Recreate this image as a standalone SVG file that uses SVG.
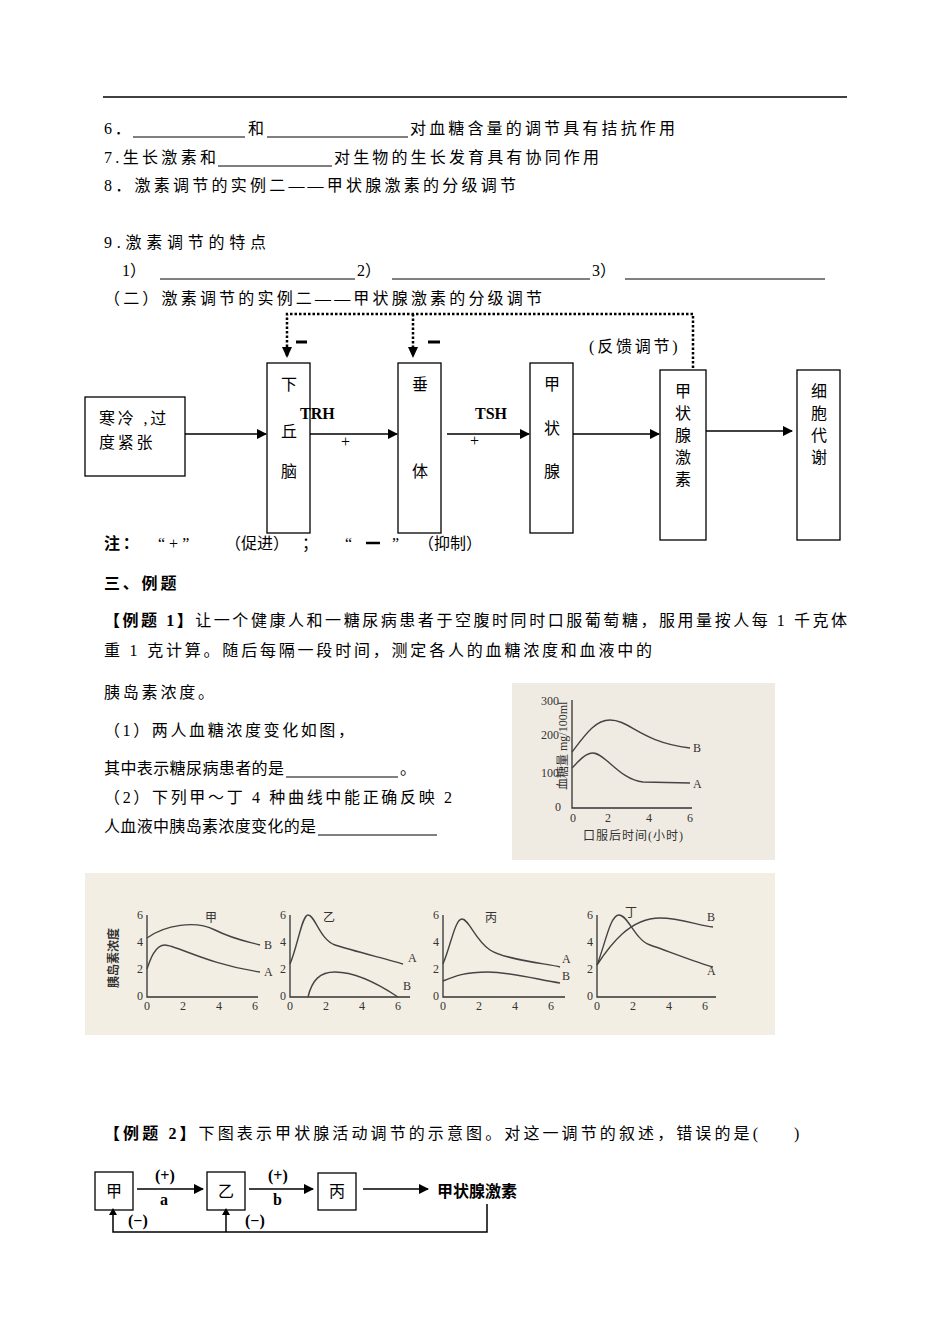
<svg xmlns="http://www.w3.org/2000/svg" width="950" height="1342" viewBox="0 0 950 1342">
<defs>
<style>
text{font-family:"Liberation Serif","Noto Sans CJK SC",serif;font-size:16px;fill:#000}
.t{letter-spacing:2.8px}
.b{font-weight:bold}
.box{fill:#fff;stroke:#000;stroke-width:1.3}
.ln{stroke:#000;stroke-width:1.5;fill:none}
.u{stroke:#000;stroke-width:1}
.dot{stroke:#000;stroke-width:2.5;stroke-dasharray:2.5 2;fill:none}
.cv{stroke:#444;stroke-width:1.4;fill:none}
.ax{stroke:#333;stroke-width:1.3;fill:none}
.g{font-size:12px;fill:#333}
</style>
<marker id="ar" viewBox="0 0 10 10" refX="9" refY="5" markerWidth="7" markerHeight="7" orient="auto"><path d="M0,0L10,5L0,10z" fill="#000"/></marker>
</defs>
<line x1="103" y1="97" x2="847" y2="97" stroke="#000" stroke-width="1.5"/>
<text class="t" x="104" y="134">6．</text><line class="u" x1="133" y1="137" x2="245" y2="137"/><text x="248" y="134">和</text><line class="u" x1="267" y1="137" x2="408" y2="137"/><text x="410" y="134" textLength="265" lengthAdjust="spacing">对血糖含量的调节具有拮抗作用</text>
<text x="104" y="163" textLength="112" lengthAdjust="spacing">7.生长激素和</text><line class="u" x1="218" y1="166" x2="332" y2="166"/><text x="334" y="163" textLength="265" lengthAdjust="spacing">对生物的生长发育具有协同作用</text>
<text x="104" y="191" textLength="412" lengthAdjust="spacing">8．激素调节的实例二——甲状腺激素的分级调节</text>
<text x="104" y="248" textLength="162" lengthAdjust="spacing">9.激素调节的特点</text>
<text x="122" y="276">1）</text><line class="u" x1="160" y1="279" x2="355" y2="279"/><text x="357" y="276">2）</text><line class="u" x1="392" y1="279" x2="590" y2="279"/><text x="592" y="276">3）</text><line class="u" x1="625" y1="279" x2="825" y2="279"/>
<text x="104" y="304" textLength="438" lengthAdjust="spacing">（二）激素调节的实例二——甲状腺激素的分级调节</text>

<g id="n1"><rect class="box" x="85" y="397" width="100" height="79"/><text class="t" x="99" y="424">寒冷 ,过</text><text class="t" x="99" y="448">度紧张</text></g>
<g id="n2"><rect class="box" x="267" y="363" width="43" height="170"/><text x="281" y="390">下</text><text x="281" y="437">丘</text><text x="281" y="477">脑</text></g>
<g id="n3"><rect class="box" x="398" y="363" width="43" height="170"/><text x="412" y="390">垂</text><text x="412" y="477">体</text></g>
<g id="n4"><rect class="box" x="530" y="363" width="43" height="170"/><text x="544" y="390">甲</text><text x="544" y="434">状</text><text x="544" y="477">腺</text></g>
<g id="n5"><rect class="box" x="660" y="370" width="46" height="170"/><text x="675" y="397">甲</text><text x="675" y="419">状</text><text x="675" y="441">腺</text><text x="675" y="463">激</text><text x="675" y="485">素</text></g>
<g id="n6"><rect class="box" x="797" y="370" width="43" height="170"/><text x="811" y="397">细</text><text x="811" y="419">胞</text><text x="811" y="441">代</text><text x="811" y="463">谢</text></g>
<g id="connectors">
<path class="dot" d="M287,356V314H693V370"/>
<path class="dot" d="M413,314V352"/>
<path d="M282,347L292,347L287,358z"/><path d="M408,347L418,347L413,358z"/>
<line x1="296" y1="342" x2="307" y2="342" stroke="#000" stroke-width="3"/>
<line x1="428" y1="342" x2="440" y2="342" stroke="#000" stroke-width="3"/>
<line class="ln" x1="185" y1="434" x2="266" y2="434" marker-end="url(#ar)"/>
<line class="ln" x1="310" y1="434" x2="397" y2="434" marker-end="url(#ar)"/>
<line class="ln" x1="447" y1="434" x2="529" y2="434" marker-end="url(#ar)"/>
<line class="ln" x1="573" y1="434" x2="659" y2="434" marker-end="url(#ar)"/>
<line class="ln" x1="706" y1="431" x2="792" y2="431" marker-end="url(#ar)"/>
<text x="300" y="419" class="b" font-size="14">TRH</text>
<text x="475" y="419" class="b" font-size="14">TSH</text>
<text x="341" y="447" font-size="15">+</text>
<text x="470" y="446" font-size="15">+</text>
<text class="t" x="589" y="352">(反馈调节)</text>
</g>
<text x="104" y="549" class="b t">注：</text><text x="158" y="549">“ + ”</text><text x="225" y="549">（促进）</text><text x="302" y="549">；</text><text x="345" y="549">“</text><line x1="366" y1="543" x2="380" y2="543" stroke="#000" stroke-width="2.5"/><text x="392" y="549">”</text><text x="418" y="549">（抑制）</text>

<text x="104" y="589" class="b t">三、例题</text>
<text x="104" y="626" textLength="743" lengthAdjust="spacing"><tspan class="b">【例题 1】</tspan>让一个健康人和一糖尿病患者于空腹时同时口服葡萄糖，服用量按人每 1 千克体</text>
<text x="104" y="656" textLength="548" lengthAdjust="spacing">重 1 克计算。随后每隔一段时间，测定各人的血糖浓度和血液中的</text>
<text class="t" x="104" y="698">胰岛素浓度。</text>
<text x="104" y="736" textLength="250" lengthAdjust="spacing">（1）两人血糖浓度变化如图，</text>
<text x="104" y="774" textLength="180" lengthAdjust="spacing">其中表示糖尿病患者的是</text><line class="u" x1="286" y1="777" x2="398" y2="777"/><text x="400" y="774">。</text>
<text x="104" y="803" textLength="348" lengthAdjust="spacing">（2）下列甲～丁 4 种曲线中能正确反映 2</text>
<text x="104" y="832" textLength="212" lengthAdjust="spacing">人血液中胰岛素浓度变化的是</text><line class="u" x1="318" y1="835" x2="437" y2="835"/>

<g id="chart1">
<rect x="512" y="683" width="263" height="177" fill="#f0ebe2"/>
<path class="ax" d="M572,700V808H692"/>
<text class="g" x="541" y="705">300</text><text class="g" x="541" y="739">200</text><text class="g" x="541" y="777">100</text><text class="g" x="555" y="811">0</text>
<text class="g" x="570" y="822">0</text><text class="g" x="605" y="822">2</text><text class="g" x="646" y="822">4</text><text class="g" x="687" y="822">6</text>
<text class="g" transform="translate(567,790) rotate(-90)">血糖量 mg/100ml</text>
<text class="g" x="583" y="840" letter-spacing="1">口服后时间(小时)</text>
<path class="cv" d="M572,752C585,735 595,720 610,720C630,720 640,742 690,748"/>
<path class="cv" d="M572,768C578,762 585,753 593,753C605,753 620,780 643,782L690,783"/>
<text class="g" x="693" y="752">B</text><text class="g" x="693" y="788">A</text>
</g>

<g id="chart2">
<rect x="85" y="873" width="690" height="162" fill="#f3eee3"/>
<path class="ax" d="M147,915V997H258"/><path class="ax" d="M290,915V997H410"/><path class="ax" d="M443,915V997H565"/><path class="ax" d="M597,915V997H716"/>
<text class="g" x="137" y="919">6</text><text class="g" x="137" y="946">4</text><text class="g" x="137" y="973">2</text><text class="g" x="137" y="1000">0</text>
<text class="g" x="144" y="1010">0</text><text class="g" x="180" y="1010">2</text><text class="g" x="216" y="1010">4</text><text class="g" x="252" y="1010">6</text>
<text class="g" x="280" y="919">6</text><text class="g" x="280" y="946">4</text><text class="g" x="280" y="973">2</text><text class="g" x="280" y="1000">0</text>
<text class="g" x="287" y="1010">0</text><text class="g" x="323" y="1010">2</text><text class="g" x="359" y="1010">4</text><text class="g" x="395" y="1010">6</text>
<text class="g" x="433" y="919">6</text><text class="g" x="433" y="946">4</text><text class="g" x="433" y="973">2</text><text class="g" x="433" y="1000">0</text>
<text class="g" x="440" y="1010">0</text><text class="g" x="476" y="1010">2</text><text class="g" x="512" y="1010">4</text><text class="g" x="548" y="1010">6</text>
<text class="g" x="587" y="919">6</text><text class="g" x="587" y="946">4</text><text class="g" x="587" y="973">2</text><text class="g" x="587" y="1000">0</text>
<text class="g" x="594" y="1010">0</text><text class="g" x="630" y="1010">2</text><text class="g" x="666" y="1010">4</text><text class="g" x="702" y="1010">6</text>
<text class="g b" transform="translate(118,988) rotate(-90)">胰岛素浓度</text>
<text class="g" x="205" y="922">甲</text><text class="g" x="323" y="922">乙</text><text class="g" x="485" y="922">丙</text><text class="g" x="625" y="917">丁</text>
<path class="cv" d="M147,938C165,925 195,920 215,930S250,942 260,945"/>
<path class="cv" d="M147,969C150,960 155,945 165,945S210,965 260,972"/>
<text class="g" x="264" y="949">B</text><text class="g" x="264" y="976">A</text>
<path class="cv" d="M290,964C298,945 302,915 308,915C315,915 320,940 335,945S390,960 403,964"/>
<path class="cv" d="M308,997C312,980 320,972 335,972C355,972 380,985 398,997"/>
<text class="g" x="408" y="962">A</text><text class="g" x="403" y="990">B</text>
<path class="cv" d="M443,964C451,945 455,919 462,919C469,919 475,940 490,950S550,964 560,967"/>
<path class="cv" d="M443,981C455,976 465,972 488,972C510,972 540,980 560,983"/>
<text class="g" x="562" y="963">A</text><text class="g" x="562" y="980">B</text>
<path class="cv" d="M597,965C605,945 610,915 619,915C628,915 635,940 650,945S700,964 713,967"/>
<path class="cv" d="M597,965C610,945 630,918 660,918C680,918 700,926 713,927"/>
<text class="g" x="707" y="921">B</text><text class="g" x="707" y="975">A</text>
</g>

<text x="104" y="1139" textLength="654" lengthAdjust="spacing"><tspan class="b">【例题 2】</tspan>下图表示甲状腺活动调节的示意图。对这一调节的叙述，错误的是(</text><text x="794" y="1139">)</text>
<g id="e1"><rect class="box" x="95" y="1172" width="38" height="38"/><text x="106" y="1197">甲</text></g>
<g id="e2"><rect class="box" x="207" y="1172" width="38" height="38"/><text x="218" y="1197">乙</text></g>
<g id="e3"><rect class="box" x="318" y="1173" width="38" height="37"/><text x="329" y="1197">丙</text></g>
<g id="e4"><text x="437" y="1197" class="b">甲状腺激素</text></g>
<g id="e-connectors">
<line class="ln" x1="137" y1="1189" x2="203" y2="1189" marker-end="url(#ar)"/>
<line class="ln" x1="249" y1="1189" x2="313" y2="1189" marker-end="url(#ar)"/>
<line class="ln" x1="363" y1="1189" x2="428" y2="1189" marker-end="url(#ar)"/>
<path class="ln" d="M487,1204V1232H113V1213"/>
<line class="ln" x1="226" y1="1232" x2="226" y2="1213"/>
<path d="M109,1215L117,1215L113,1208z"/><path d="M222,1215L230,1215L226,1208z"/>
<text x="155" y="1181" font-size="13" class="b">(+)</text><text x="160" y="1205" font-size="13" class="b">a</text>
<text x="268" y="1181" font-size="13" class="b">(+)</text><text x="273" y="1205" font-size="13" class="b">b</text>
<text x="128" y="1226" font-size="13" class="b">(−)</text><text x="245" y="1226" font-size="13" class="b">(−)</text>
</g>
</svg>
